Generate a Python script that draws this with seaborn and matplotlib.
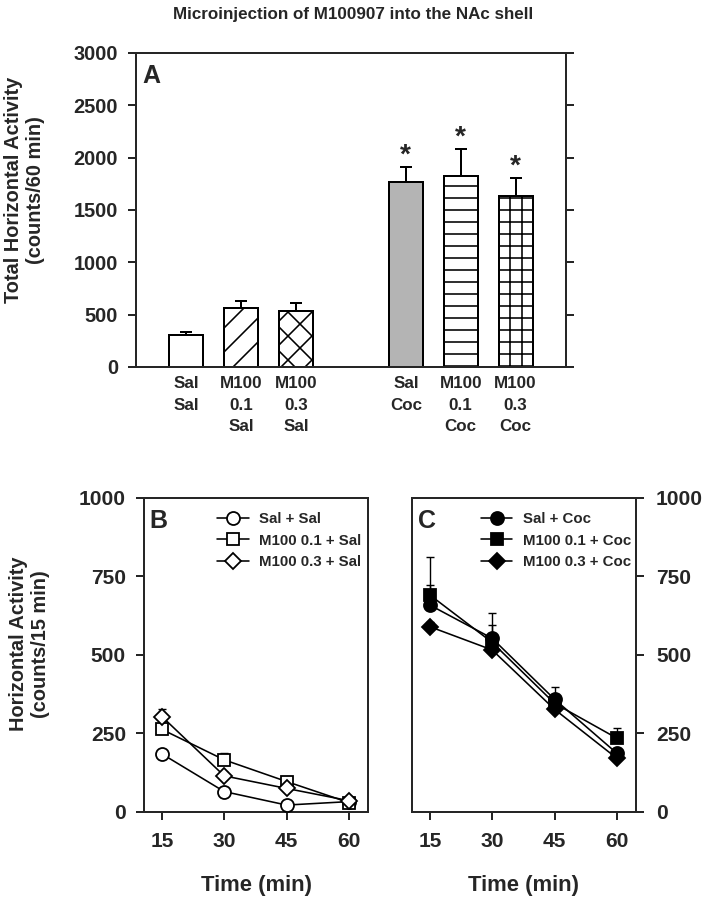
import matplotlib
matplotlib.use('Agg')
import matplotlib.pyplot as plt
import numpy as np
import pandas as pd
import seaborn as sns

# panel A: total horizontal activity (counts/60 min)
bar_labels = ['Sal\nSal', 'M100\n0.1\nSal', 'M100\n0.3\nSal',
              'Sal\nCoc', 'M100\n0.1\nCoc', 'M100\n0.3\nCoc']
bar_pos = [0, 1, 2, 4, 5, 6]
bar_means = [305, 560, 535, 1770, 1820, 1630]
bar_sem = [30, 75, 75, 140, 265, 175]
bar_sig = [False, False, False, True, True, True]
bar_hatch = ['', '/', 'x', '', '-', '+']
bar_fill = ['white', 'white', 'white', '#b4b4b4', 'white', 'white']

# panels B and C: time course (counts/15 min)
time_min = [15, 30, 45, 60]
sal_labels = ['Sal + Sal', 'M100 0.1 + Sal', 'M100 0.3 + Sal']
sal_means = [[185, 65, 22, 33], [263, 166, 97, 30], [304, 115, 75, 36]]
sal_sem = [[6, 5, 3, 3], [12, 22, 10, 5], [25, 12, 8, 4]]
coc_labels = ['Sal + Coc', 'M100 0.1 + Coc', 'M100 0.3 + Coc']
coc_means = [[659, 553, 359, 187], [691, 540, 346, 235], [590, 516, 327, 171]]
coc_sem = [[64, 42, 40, 15], [120, 93, 20, 33], [15, 12, 10, 8]]
markers = ['o', 's', 'D']
marker_sizes = [13, 12, 11]

sns.set_style('ticks')
plt.rcParams['font.family'] = ['Liberation Sans', 'DejaVu Sans']
plt.rcParams['font.weight'] = 'bold'
plt.rcParams['hatch.linewidth'] = 1.6
plt.rcParams['axes.linewidth'] = 2

fig = plt.figure(figsize=(707 / 72, 899 / 72), dpi=72)

# ---------- panel A ----------
axA = fig.add_axes([0.1924, 0.5918, 0.6082, 0.3493])
dfA = pd.DataFrame({'pos': bar_pos, 'mean': bar_means})
sns.barplot(data=dfA, x='pos', y='mean', native_scale=True, width=0.62,
            color='white', edgecolor='black', linewidth=2, errorbar=None,
            ax=axA)
for patch, h, fc in zip(axA.patches, bar_hatch, bar_fill):
    patch.set_facecolor(fc)
    patch.set_hatch(h)
    patch.set_zorder(2)
axA.errorbar(bar_pos, bar_means, yerr=[np.zeros(len(bar_sem)), bar_sem],
             fmt='none', ecolor='black', elinewidth=2, capsize=6,
             capthick=2, zorder=1)
for p, m, s, sig in zip(bar_pos, bar_means, bar_sem, bar_sig):
    if sig:
        axA.annotate('*', (p, m + s), xytext=(0, -2), textcoords='offset points',
                     ha='center', va='bottom', fontsize=28, fontweight='bold')
axA.set_xlim(-0.92, 6.92)
axA.set_ylim(0, 3000)
axA.set_yticks(range(0, 3001, 500))
axA.set_xticks(bar_pos)
axA.set_xticklabels(bar_labels, fontsize=17, fontweight='bold', linespacing=1.55)
axA.tick_params(axis='x', length=0, pad=9)
axA.tick_params(axis='y', direction='out', length=8, width=2, right=True,
                labelright=False, labelsize=20, pad=10)
axA.set_xlabel('')
axA.set_ylabel('Total Horizontal Activity\n(counts/60 min)', fontsize=20,
               fontweight='bold')
axA.yaxis.set_label_coords(-0.212, 0.564)
axA.text(0.015, 0.965, 'A', transform=axA.transAxes, fontsize=25,
         fontweight='bold', va='top', ha='left')
fig.text(0.5, 0.984, 'Microinjection of M100907 into the NAc shell',
         ha='center', va='center', fontsize=17, fontweight='bold')


def time_panel(ax, labels, means, sems, filled):
    for lab, m, s, mk, ms in zip(labels, means, sems, markers, marker_sizes):
        ax.errorbar(time_min, m, yerr=[np.zeros(len(s)), s], fmt='none',
                    ecolor='black', elinewidth=1.4, capsize=4, capthick=1.4,
                    zorder=1)
        sns.lineplot(x=time_min, y=m, ax=ax, color='black', linewidth=1.6,
                     marker=mk, markersize=ms, markeredgewidth=1.8,
                     markeredgecolor='black',
                     markerfacecolor='black' if filled else 'white',
                     label=lab, zorder=3)
    ax.set_xlim(10.7, 64.6)
    ax.set_ylim(0, 1000)
    ax.set_xticks(time_min)
    ax.set_yticks(range(0, 1001, 250))
    ax.tick_params(axis='both', direction='out', length=8, width=2,
                   labelsize=21, pad=10)
    ax.tick_params(axis='x', pad=12)
    ax.set_xlabel('Time (min)', fontsize=22, fontweight='bold')
    ax.xaxis.set_label_coords(0.5, -0.20)
    for t in ax.get_xticklabels() + ax.get_yticklabels():
        t.set_fontweight('bold')
    ax.legend(loc='upper left', bbox_to_anchor=(0.3, 0.955), frameon=False,
              prop={'size': 15, 'weight': 'bold'}, handlelength=2.1,
              handletextpad=0.7, labelspacing=0.5, borderpad=0,
              borderaxespad=0)


# ---------- panel B ----------
axB = fig.add_axes([0.2037, 0.0968, 0.3168, 0.3493])
time_panel(axB, sal_labels, sal_means, sal_sem, filled=False)
axB.set_ylabel('Horizontal Activity\n(counts/15 min)', fontsize=20,
               fontweight='bold')
axB.yaxis.set_label_coords(-0.42, 0.535)
axB.get_legend().set_bbox_to_anchor((0.326, 0.955), transform=axB.transAxes)
axB.text(0.025, 0.965, 'B', transform=axB.transAxes, fontsize=25,
         fontweight='bold', va='top', ha='left')

# ---------- panel C ----------
axC = fig.add_axes([0.5827, 0.0968, 0.3168, 0.3493])
time_panel(axC, coc_labels, coc_means, coc_sem, filled=True)
axC.yaxis.tick_right()
axC.tick_params(axis='y', pad=12)
axC.set_ylabel('')
axC.get_legend().set_bbox_to_anchor((0.308, 0.955), transform=axC.transAxes)
axC.text(0.025, 0.965, 'C', transform=axC.transAxes, fontsize=25,
         fontweight='bold', va='top', ha='left')

fig.savefig('out.png', dpi=72)
